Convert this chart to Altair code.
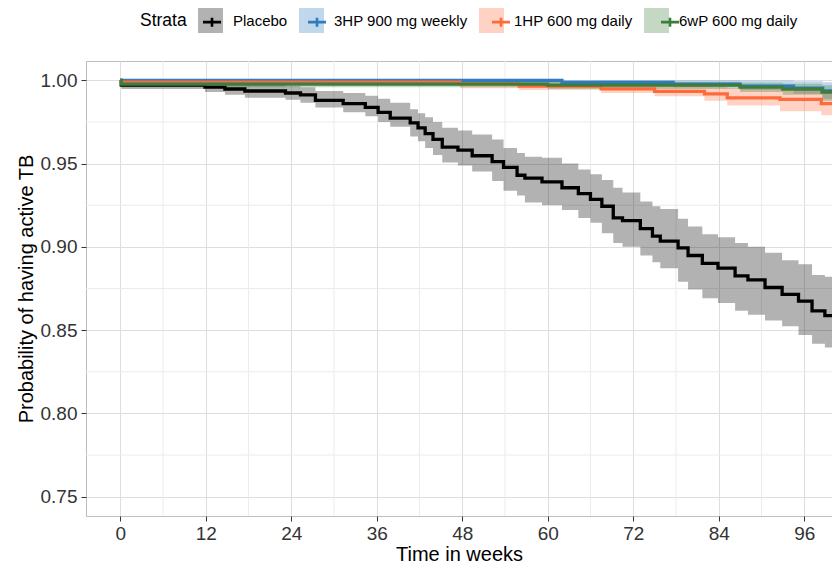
import altair as alt
import pandas as pd

# ---------------- data ----------------
strata_order = ["Placebo", "3HP 900 mg weekly", "1HP 600 mg daily", "6wP 600 mg daily"]
line_colors = ["#000000", "#2F7BBF", "#FF6A3A", "#3C7D3C"]

placebo_weeks = [0, 0.15, 11.9, 14.7, 17.5, 23.2, 25.3, 27.4, 31.3, 34.4, 36.2, 37.9, 40.7, 41.8,
                 42.8, 43.9, 45.2, 47.4, 49.4, 52.2, 53.8, 55.7, 56.8, 59.2, 62.0, 64.3, 66.0, 67.6,
                 69.2, 70.5, 73.0, 74.7, 75.8, 78.3, 79.7, 81.7, 83.9, 86.3, 88.1, 90.5, 92.9, 95.2,
                 97.1, 98.9, 100.6, 102.0]
placebo_surv = [1.0, 0.9971, 0.9959, 0.9948, 0.9936, 0.9924, 0.9913, 0.9880, 0.9860, 0.9837, 0.9808,
                0.9773, 0.9744, 0.9715, 0.9680, 0.9645, 0.9599, 0.9581, 0.9547, 0.9512, 0.9477, 0.9430,
                0.9413, 0.9390, 0.9355, 0.9320, 0.9285, 0.9244, 0.9174, 0.9157, 0.9110, 0.9064, 0.9035,
                0.8994, 0.8948, 0.8901, 0.8872, 0.8826, 0.8802, 0.8756, 0.8715, 0.8674, 0.8616, 0.8587,
                0.8564, 0.8564]
placebo_upper = [1.0, 0.9994, 0.9988, 0.9983, 0.9977, 0.9965, 0.9959, 0.9936, 0.9924, 0.9907, 0.9890,
                 0.9866, 0.9826, 0.9802, 0.9779, 0.9750, 0.9715, 0.9698, 0.9674, 0.9645, 0.9593, 0.9564,
                 0.9541, 0.9535, 0.9500, 0.9465, 0.9436, 0.9401, 0.9355, 0.9326, 0.9273, 0.9244, 0.9227,
                 0.9169, 0.9122, 0.9076, 0.9058, 0.9023, 0.9000, 0.8965, 0.8919, 0.8895, 0.8831, 0.8820,
                 0.8802, 0.8802]
placebo_lower = [1.0, 0.9948, 0.9930, 0.9913, 0.9895, 0.9884, 0.9866, 0.9837, 0.9808, 0.9785, 0.9750,
                 0.9721, 0.9663, 0.9634, 0.9593, 0.9552, 0.9506, 0.9488, 0.9453, 0.9395, 0.9337, 0.9308,
                 0.9267, 0.9250, 0.9221, 0.9174, 0.9145, 0.9081, 0.9023, 0.9000, 0.8948, 0.8907, 0.8872,
                 0.8791, 0.8744, 0.8692, 0.8663, 0.8616, 0.8593, 0.8558, 0.8523, 0.8471, 0.8419, 0.8395,
                 0.8372, 0.8372]

hp3_weeks = [0, 0.15, 62.0, 77.6, 87.0, 94.5, 98.6, 102.0]
hp3_surv = [1.0, 0.9999, 0.9988, 0.9977, 0.9965, 0.9953, 0.9936, 0.9936]
hp3_lower = [1.0, 0.9991, 0.9977, 0.9959, 0.9942, 0.9919, 0.9890, 0.9890]
hp3_upper = [1.0, 1.0, 1.0, 1.0, 0.9999, 0.9994, 0.9988, 0.9988]

hp1_weeks = [0, 0.15, 47.7, 56.0, 67.5, 75.0, 82.0, 85.2, 92.6, 98.4, 100.2, 102.0]
hp1_surv = [1.0, 0.9989, 0.9980, 0.9965, 0.9949, 0.9934, 0.9919, 0.9895, 0.9885, 0.9860, 0.9837, 0.9837]
hp1_lower = [1.0, 0.9978, 0.9953, 0.9942, 0.9924, 0.9904, 0.9878, 0.9849, 0.9814, 0.9791, 0.9773, 0.9773]
hp1_upper = [1.0, 1.0, 0.9997, 0.9994, 0.9988, 0.9977, 0.9965, 0.9953, 0.9948, 0.9936, 0.9919, 0.9919]

wp6_weeks = [0, 0.15, 60.0, 87.0, 93.0, 98.5, 102.0]
wp6_surv = [1.0, 0.9977, 0.9971, 0.9959, 0.9948, 0.9930, 0.9930]
wp6_lower = [1.0, 0.9959, 0.9948, 0.9930, 0.9913, 0.9878, 0.9878]
wp6_upper = [1.0, 0.9994, 0.9991, 0.9985, 0.9980, 0.9971, 0.9971]

x_ticks = [0, 12, 24, 36, 48, 60, 72, 84, 96]
x_minor = [6, 18, 30, 42, 54, 66, 78, 90]
y_ticks = [0.75, 0.80, 0.85, 0.90, 0.95, 1.00]
y_minor = [0.775, 0.825, 0.875, 0.925, 0.975]

# ---------------- build table ----------------
series = [
    (strata_order[0], placebo_weeks, placebo_surv, placebo_lower, placebo_upper),
    (strata_order[1], hp3_weeks, hp3_surv, hp3_lower, hp3_upper),
    (strata_order[2], hp1_weeks, hp1_surv, hp1_lower, hp1_upper),
    (strata_order[3], wp6_weeks, wp6_surv, wp6_lower, wp6_upper),
]
rows = []
for name, w, s, lo, up in series:
    for i in range(len(w)):
        rows.append({"strata": name, "strata_line": name, "week": w[i],
                     "surv": s[i], "lower": lo[i], "upper": up[i]})
df = pd.DataFrame(rows)
df_xminor = pd.DataFrame({"week": x_minor})
df_yminor = pd.DataFrame({"surv": y_minor})

FONT = "Liberation Sans"

x_scale = alt.Scale(domain=[-4.8, 99.9], nice=False, zero=False)
y_scale = alt.Scale(domain=[0.7384, 1.0116], nice=False, zero=False)
x_axis = alt.Axis(values=x_ticks, title="Time in weeks", format="d")
y_axis = alt.Axis(values=y_ticks, title="Probability of having active TB", format=".2f")

legend_common = dict(
    orient="none", legendX=54, legendY=-53, direction="horizontal",
    titleOrient="left", titleAnchor="middle", titleBaseline="middle",
    titleFont=FONT, titleFontSize=17.5, titleFontWeight="normal", titlePadding=11,
    labelFont=FONT, labelFontSize=15, labelOffset=10, columnPadding=11,
    symbolSize=625, labelLimit=300,
)

fill_legend = alt.Legend(title="Strata", titleColor="#000000", labelColor="#000000",
                         symbolType="square", symbolStrokeWidth=0, symbolOpacity=0.3,
                         zindex=0, **legend_common)
stroke_legend = alt.Legend(title="Strata", titleColor="transparent", labelColor="transparent",
                           symbolType="M-0.72,0H0.72M0,-0.36V0.36", symbolStrokeWidth=2.6,
                           symbolFillColor="transparent", zindex=1, **legend_common)

minor_x = alt.Chart(df_xminor).mark_rule(color="#EBEBEB", strokeWidth=1).encode(
    x=alt.X("week:Q", scale=x_scale, axis=x_axis)
)
minor_y = alt.Chart(df_yminor).mark_rule(color="#EBEBEB", strokeWidth=1).encode(
    y=alt.Y("surv:Q", scale=y_scale, axis=y_axis)
)

ribbons = alt.Chart(df).mark_area(interpolate="step-after", opacity=0.3, clip=True).encode(
    x=alt.X("week:Q", scale=x_scale, axis=x_axis),
    y=alt.Y("lower:Q", scale=y_scale, axis=y_axis),
    y2="upper:Q",
    fill=alt.Fill("strata:N", sort=strata_order,
                  scale=alt.Scale(range=line_colors), legend=fill_legend),
)

lines = alt.Chart(df).mark_line(interpolate="step-after", strokeWidth=3.3, clip=True).encode(
    x=alt.X("week:Q", scale=x_scale, axis=x_axis),
    y=alt.Y("surv:Q", scale=y_scale, axis=y_axis),
    stroke=alt.Stroke("strata_line:N",
                      scale=alt.Scale(domain=strata_order, range=line_colors),
                      legend=stroke_legend),
)

chart = alt.layer(minor_x, minor_y, ribbons, lines).properties(
    width=746, height=455,
    autosize=alt.AutoSizeParams(type="none"),
    padding={"left": 78, "top": 53, "right": 0, "bottom": 50},
).configure_view(
    stroke="#BDBDBD", strokeWidth=1
).configure_axis(
    labelFont=FONT, labelFontSize=19, labelColor="#333333", labelPadding=3,
    titleFont=FONT, titleFontSize=20, titleFontWeight="normal", titleColor="#000000",
    tickColor="#333333", tickSize=5, tickWidth=1, domain=False,
    grid=True, gridColor="#DEDEDE", gridWidth=1,
).configure_axisX(
    titlePadding=1
).configure_axisY(
    titlePadding=4, labelPadding=4
)

chart.save("out.html", embed_options={"renderer": "svg", "actions": False})
